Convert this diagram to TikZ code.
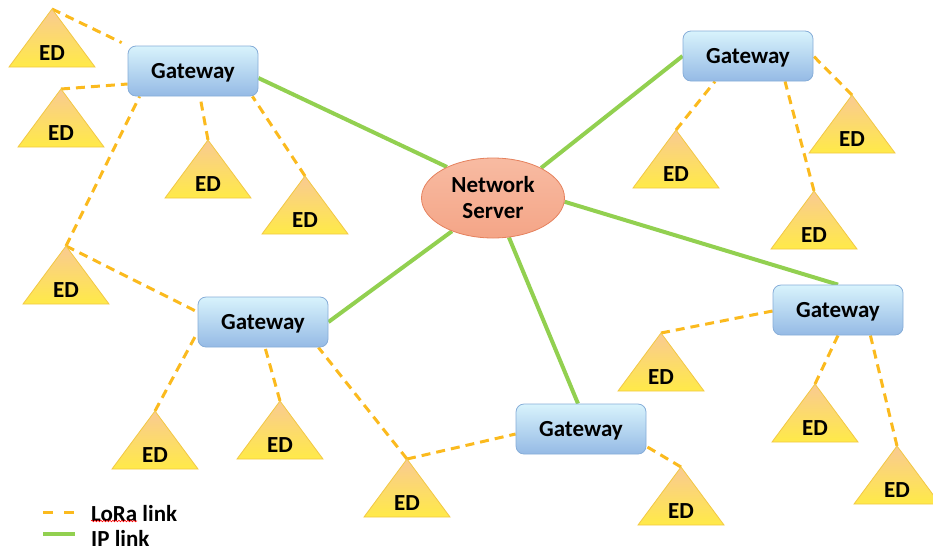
\documentclass[tikz,border=0pt]{standalone}
\usepackage{fontspec}
\setmainfont{Carlito}
\usetikzlibrary{shapes.geometric,decorations.pathmorphing,backgrounds}
\definecolor{gwtop}{HTML}{D8F3FC}
\definecolor{gwbot}{HTML}{95BAE5}
\definecolor{gwline}{HTML}{86ADD8}
\definecolor{nsfill}{HTML}{F4A587}
\definecolor{nstop}{HTML}{F8BBA2}
\definecolor{nsline}{HTML}{E5815D}
\definecolor{edtop}{HTML}{F9CA92}
\definecolor{edmid}{HTML}{FFE462}
\definecolor{edbot}{HTML}{FFEA48}
\definecolor{edline}{HTML}{F2C844}
\definecolor{lora}{HTML}{FBBA1E}
\definecolor{iplink}{HTML}{92D050}
\tikzset{
  gateway/.style={rectangle, rounded corners=8pt, minimum width=130pt, minimum height=50pt,
    top color=gwtop, bottom color=gwbot, draw=gwline, line width=0.8pt, text depth=0pt,
    font=\fontsize{23}{26}\selectfont\bfseries},
  server/.style={ellipse, minimum width=143pt, minimum height=80pt, inner sep=0pt,
    top color=nstop, bottom color=nsfill, draw=nsline, line width=0.8pt, align=center,
    font=\fontsize{23}{26}\selectfont\bfseries},
  edshape/.style={top color=edtop, middle color=edmid, bottom color=edbot, draw=edline, line width=0.8pt},
  edlabel/.style={inner sep=0pt, font=\fontsize{23}{24}\selectfont\bfseries},
  loralink/.style={draw=lora, line width=3pt, dash pattern=on 9pt off 6pt},
  iplinkstyle/.style={draw=iplink, line width=4pt},
  legendtext/.style={anchor=west, inner sep=0pt, font=\fontsize{23}{26}\selectfont\bfseries}
}
% end device: triangle with its apex at (#2,#3), apex named #1, label named #1t
\newcommand\edevice[3]{%
  \path[edshape] (#2,#3) -- ++(-43,58) -- ++(86,0) -- cycle;
  \coordinate (#1) at (#2,#3);
  \node[edlabel] (#1t) at (#2,#3+44) {ED};
}
\begin{document}
\begin{tikzpicture}[x=1pt,y=-1pt]
\useasboundingbox (0,0) rectangle (933,552);

% end devices
\edevice{ed1}{52}{9}
\edevice{ed2}{61}{89}
\edevice{ed3}{208}{140}
\edevice{ed4}{305}{176}
\edevice{ed5}{66}{246}
\edevice{ed6}{155}{411}
\edevice{ed7}{280}{401}
\edevice{ed8}{407}{459}
\edevice{ed9}{681}{467}
\edevice{ed10}{661}{333}
\edevice{ed11}{815}{384}
\edevice{ed12}{897}{446}
\edevice{ed13}{852}{95}
\edevice{ed14}{676}{130}
\edevice{ed15}{814}{191}

% gateways and server
\node[gateway] (g1) at (193,71) {Gateway};
\node[gateway] (g2) at (748,56) {Gateway};
\node[gateway] (g3) at (263,322) {Gateway};
\node[gateway] (g4) at (838,310) {Gateway};
\node[gateway] (g5) at (581,429) {Gateway};
\node[server] (ns) at (493,198) {Network\\Server};

\begin{scope}[on background layer]
% LoRa links
\draw[loralink] (ed1) -- ([xshift=-6pt,yshift=3pt]g1.north west);
\draw[loralink] (ed2) -- ([yshift=-13pt]g1.west);
\draw[loralink] (ed5) -- ([xshift=12pt]g1.south west);
\draw[loralink] (ed3) -- ([xshift=7pt]g1.south);
\draw[loralink] (ed4) -- ([xshift=-6pt]g1.south east);
\draw[loralink] (ed5) -- ([yshift=10pt]g3.west);
\draw[loralink] (ed6) -- ([yshift=-10pt]g3.west);
\draw[loralink] (ed7) -- ([xshift=2pt]g3.south);
\draw[loralink] (ed8) -- ([xshift=-10pt]g3.south east);
\draw[loralink] (ed8) -- ([yshift=-5pt]g5.west);
\draw[loralink] (ed9) -- ([yshift=8pt]g5.south east);
\draw[loralink] (ed10) -- ([yshift=-1pt]g4.west);
\draw[loralink] (ed11) -- (g4.south);
\draw[loralink] (ed12) -- ([xshift=-33pt]g4.south east);
\draw[loralink] (ed14) -- ([xshift=-33pt]g2.south);
\draw[loralink] (ed15) -- ([xshift=37pt]g2.south);
\draw[loralink] (ed13) -- (g2.east);
% IP links
\draw[iplinkstyle] ([yshift=-7pt]g1.east) -- (ns.146);
\draw[iplinkstyle] (g2.west) -- (ns.32);
\draw[iplinkstyle] (g3.east) -- (ns.219);
\draw[iplinkstyle] (g4.north) -- (ns.-3);
\draw[iplinkstyle] ([xshift=-3pt]g5.north) -- (ns.-68);
\end{scope}

% legend
\coordinate (la) at (43,512);
\coordinate (lb) at (75,512);
\coordinate (ia) at (43,534);
\coordinate (ib) at (75,534);
\draw[draw=lora, line width=3pt, dash pattern=on 10pt off 11pt] (la) -- (lb);
\draw[iplinkstyle] (ia) -- (ib);
\node[legendtext] (loratxt) at (91,514) {LoRa link};
\node[legendtext] (iptxt) at (91,538) {IP link};
\coordinate (sqa) at (91,521);
\coordinate (sqb) at (137,521);
\draw[red, line width=0.6pt, decorate, decoration={snake, amplitude=0.8pt, segment length=3pt}] (sqa) -- (sqb);
\end{tikzpicture}
\end{document}
